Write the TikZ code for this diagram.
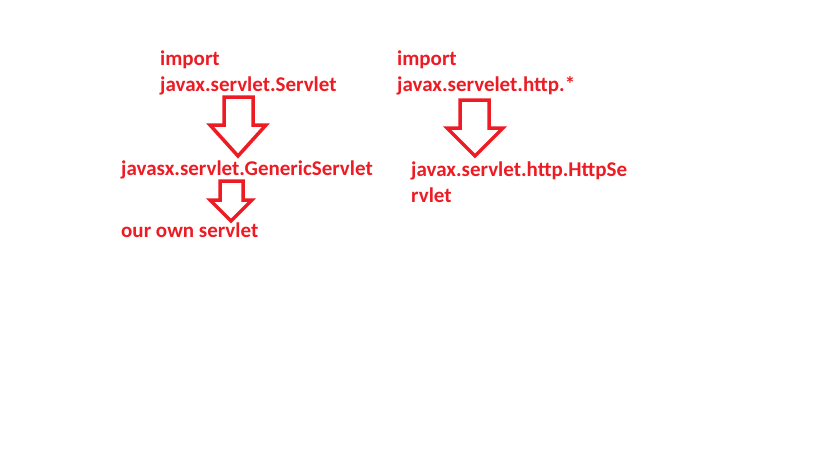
\documentclass[tikz,border=0pt]{standalone}
\usepackage{fontspec}
\setmainfont{Carlito}
\usepackage{tikz}
\definecolor{paintred}{RGB}{237,28,36}

\begin{document}
\begin{tikzpicture}[x=1pt,y=-1pt,
                    label text/.style={anchor=base west,inner sep=0pt,align=left,
                      text=paintred,font=\bfseries\fontsize{21}{26}\selectfont},
                    block arrow/.style={draw=paintred,line width=3.5pt,line join=miter}]

  \fill[white] (0,0) rectangle (819,460);

  \node[label text] (imp) at (160,92) {import\\javax.servlet.Servlet};
  \node[label text] (gen) at (121,175) {javasx.servlet.GenericServlet};
  \node[label text] (own) at (121,237) {our own servlet};
  \node[label text] (imphttp) at (397,92) {import\\javax.servelet.http.*};
  \node[label text] (http) at (411,202) {javax.servlet.http.HttpSe\\rvlet};

  % hollow arrows between the lines
  \draw[block arrow] (224,97) -- (253,97) -- (253,125) -- (266,125) -- (238,156)
    -- (210,125) -- (224,125) -- cycle;
  \draw[block arrow] (220,181) -- (243,181) -- (243,200) -- (252,200) -- (231,221)
    -- (210,200) -- (220,200) -- cycle;
  \draw[block arrow] (460,100) -- (489,100) -- (489,128) -- (503,128) -- (475,156)
    -- (447,128) -- (460,128) -- cycle;
\end{tikzpicture}
\end{document}
